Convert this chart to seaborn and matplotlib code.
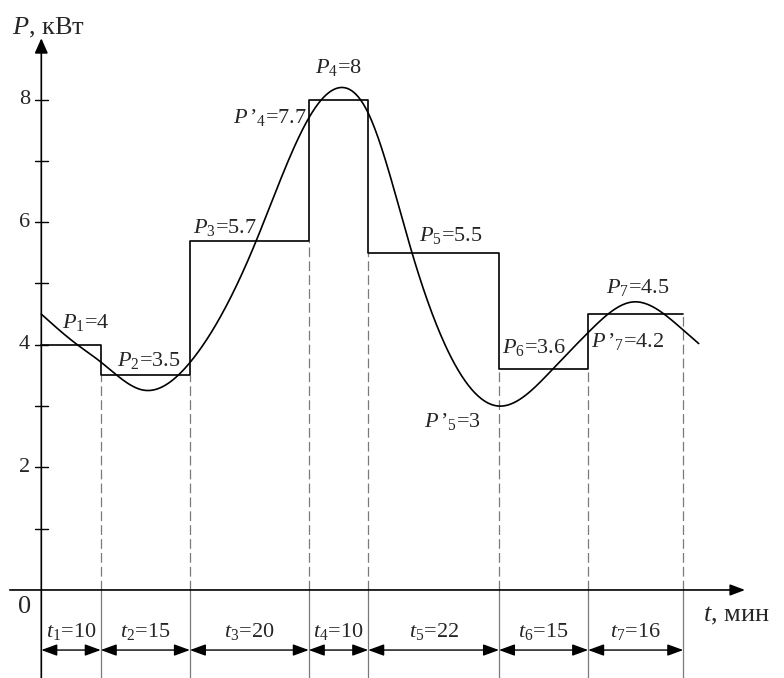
import numpy as np
import pandas as pd
import matplotlib
matplotlib.use("Agg")
import matplotlib.pyplot as plt
import seaborn as sns

# Load schedule: interval durations (min) and stepped power levels (kW)
durations = [10, 15, 20, 10, 22, 15, 16]
levels = [4, 3.5, 5.7, 8, 5.5, 3.6, 4.5]
level_texts = ["4", "3.5", "5.7", "8", "5.5", "3.6", "4.5"]

# Actual (smooth) load curve, knots read as time (min) and power (kW)
curve_t = [0, 5.8, 10, 17.2, 25, 35.7, 45, 49.9, 55, 62.4, 77, 86.2, 92,
           99.6, 108, 110.6]
curve_p = [4.50, 4.02, 3.72, 3.26, 3.71, 5.59, 7.7, 8.19, 7.78, 5.49, 3.0,
           3.62, 4.2, 4.70, 4.24, 4.02]

# Marked points of the actual curve
prime_index = ["4", "5", "7"]
prime_t = [45, 77, 92]
prime_p = [7.7, 3, 4.2]
prime_texts = ["7.7", "3", "4.2"]

y_ticks = [1, 2, 3, 4, 5, 6, 7, 8]
y_tick_labels = {2: "2", 4: "4", 6: "6", 8: "8"}


def natural_spline(x, y, xs):
    x = np.asarray(x, float)
    y = np.asarray(y, float)
    n = len(x)
    h = np.diff(x)
    A = np.zeros((n, n))
    r = np.zeros(n)
    A[0, 0] = A[-1, -1] = 1.0
    for i in range(1, n - 1):
        A[i, i - 1] = h[i - 1]
        A[i, i] = 2 * (h[i - 1] + h[i])
        A[i, i + 1] = h[i]
        r[i] = 3 * ((y[i + 1] - y[i]) / h[i] - (y[i] - y[i - 1]) / h[i - 1])
    c = np.linalg.solve(A, r)
    b = (y[1:] - y[:-1]) / h - h * (2 * c[:-1] + c[1:]) / 3
    d = (c[1:] - c[:-1]) / (3 * h)
    idx = np.clip(np.searchsorted(x, xs) - 1, 0, n - 2)
    dx = xs - x[idx]
    return y[idx] + b[idx] * dx + c[idx] * dx ** 2 + d[idx] * dx ** 3


sns.set_theme(style="white")
plt.rcParams["font.family"] = ["Liberation Serif", "DejaVu Serif"]
plt.rcParams["mathtext.fontset"] = "custom"
plt.rcParams["mathtext.rm"] = "Liberation Serif"
plt.rcParams["mathtext.it"] = "Liberation Serif:italic"
plt.rcParams["mathtext.bf"] = "Liberation Serif:bold"
plt.rcParams["lines.scale_dashes"] = False

fig = plt.figure(figsize=(7.84, 6.78), dpi=100)
ax = fig.add_axes([0, 0, 1, 1])
ax.set_axis_off()
ax.set_xlim(-6.95, 124.95)
ax.set_ylim(-1.436, 9.625)

edges = np.concatenate([[0], np.cumsum(durations)])
y_bottom = -1.436
grey = "#7a7a7a"

# Interval boundaries: dashed above the time axis, solid below it
for i in range(1, len(edges)):
    low = min(levels[i - 1], levels[i]) if i < len(levels) else levels[-1]
    ax.plot([edges[i], edges[i]], [0, low], color=grey, lw=0.9,
            dashes=(7, 3), zorder=1)
    ax.plot([edges[i], edges[i]], [y_bottom, 0], color=grey, lw=0.9, zorder=1)

# Stepped load schedule
step_df = pd.DataFrame({"t": edges, "P": levels + [levels[-1]]})
sns.lineplot(data=step_df, x="t", y="P", drawstyle="steps-post",
             estimator=None, sort=False, color="black", lw=1.2, ax=ax,
             zorder=3)

# Smooth actual load curve
ts = np.linspace(curve_t[0], curve_t[-1], 600)
curve_df = pd.DataFrame({"t": ts, "P": natural_spline(curve_t, curve_p, ts)})
sns.lineplot(data=curve_df, x="t", y="P", estimator=None, sort=False,
             color="black", lw=1.2, ax=ax, zorder=3)

# Coordinate axes with arrow heads
ax.annotate("", xy=(0, 9.0), xytext=(0, y_bottom),
            arrowprops=dict(arrowstyle="-|>,head_length=0.45,head_width=0.2",
                            mutation_scale=20, lw=1.2, color="black",
                            shrinkA=0, shrinkB=0), zorder=4)
ax.annotate("", xy=(118.4, 0), xytext=(-5.3, 0),
            arrowprops=dict(arrowstyle="-|>,head_length=0.45,head_width=0.17",
                            mutation_scale=20, lw=1.2, color="black",
                            shrinkA=0, shrinkB=0), zorder=4)

for v in y_ticks:
    ax.plot([-1.1, 1.1], [v, v], color="black", lw=1.0, zorder=4)
    if v in y_tick_labels:
        ax.text(-1.9, v, y_tick_labels[v], ha="right", va="center",
                fontsize=16)

ax.text(-2.75, -0.28, "0", ha="center", va="center", fontsize=19)
ax.text(-4.93, 9.17, "$P$, кВт", ha="left", va="center", fontsize=19)
ax.text(111.4, -0.42, "$t$, мин", ha="left", va="center", fontsize=19)

# Interval dimension arrows and duration labels
for i, dur in enumerate(durations):
    a, b = edges[i], edges[i + 1]
    ax.annotate("", xy=(b, -0.98), xytext=(a, -0.98),
                arrowprops=dict(arrowstyle="<|-|>,head_length=0.6,head_width=0.22",
                                mutation_scale=16, lw=1.0, color="black",
                                shrinkA=0, shrinkB=0))
    ax.text((a + b) / 2, -0.68, f"$t_{{{i + 1}}}$={dur}", ha="center",
            va="center", fontsize=16)

# Step level labels
level_pos = [(3.5, 4.36, "left"), (12.8, 3.75, "left"), (25.6, 5.91, "left"),
             (50.0, 8.52, "center"), (63.5, 5.79, "left"), (77.5, 3.95, "left"),
             (95.0, 4.93, "left")]
for i, (tx, ty, ha) in enumerate(level_pos):
    ax.text(tx, ty, f"$P_{{{i + 1}}}$={level_texts[i]}", ha=ha, va="center",
            fontsize=16)

# Curve point labels
prime_pos = [(44.7, 7.70, "right"), (64.4, 2.75, "left"), (92.4, 4.05, "left")]
for k, (tx, ty, ha) in enumerate(prime_pos):
    ax.text(tx, ty, f"$P\\,’_{{{prime_index[k]}}}$={prime_texts[k]}", ha=ha,
            va="center", fontsize=16)

fig.savefig("out.png", dpi=100)
